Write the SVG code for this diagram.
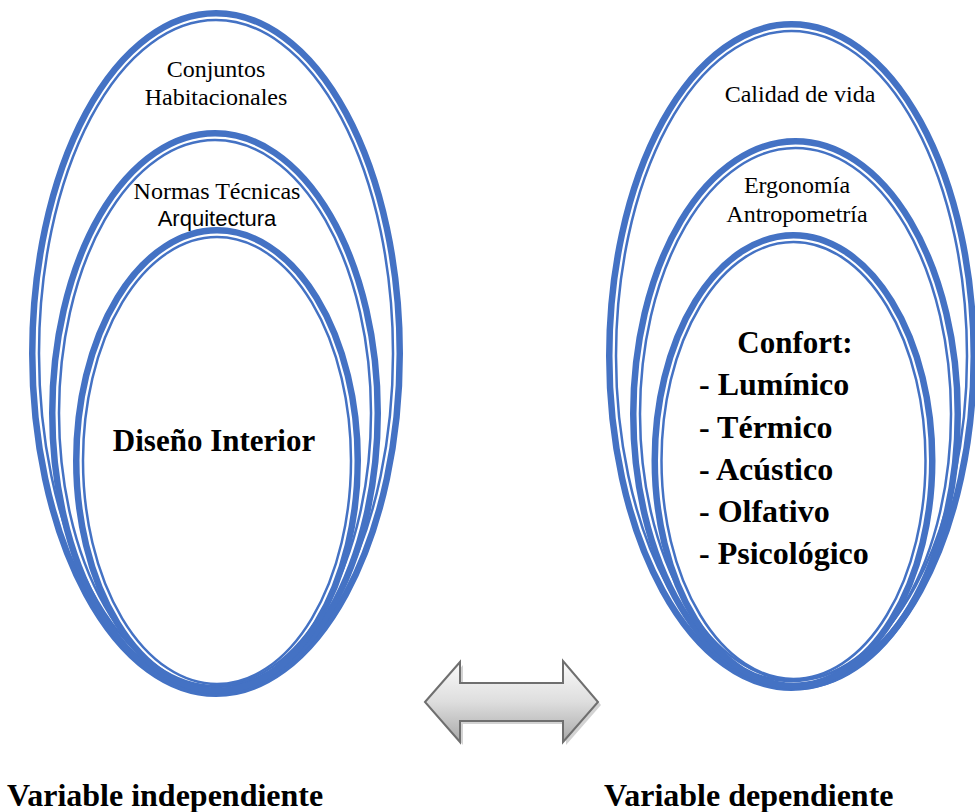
<svg xmlns="http://www.w3.org/2000/svg" width="975" height="812" viewBox="0 0 975 812">
<style>
.thick{fill:none;stroke:#4472C4;stroke-width:6.5}
.thin{fill:none;stroke:#4472C4;stroke-width:2.5}
.lbl{font-family:"Liberation Serif","Times New Roman",serif;font-size:24px;fill:#000;text-anchor:middle}
.sans{font-family:"Liberation Sans",Arial,sans-serif;font-size:22px;fill:#000;text-anchor:middle}
.big{font-family:"Liberation Serif","Times New Roman",serif;font-size:31px;font-weight:bold;fill:#000}
.lst{font-family:"Liberation Serif","Times New Roman",serif;font-size:32px;font-weight:bold;fill:#000}
.var{font-family:"Liberation Serif","Times New Roman",serif;font-size:32px;font-weight:bold;fill:#000}
</style>
<defs>
<linearGradient id="ag" x1="0" y1="0" x2="0" y2="1">
<stop offset="0" stop-color="#fbfbfb"/>
<stop offset="0.5" stop-color="#dedede"/>
<stop offset="1" stop-color="#a9a9a9"/>
</linearGradient>
</defs>
<rect width="975" height="812" fill="#fff"/>

<g id="conjuntos">
<ellipse class="thick" cx="216" cy="353.5" rx="183.75" ry="340.25"/>
<ellipse class="thin" cx="216" cy="353.5" rx="177" ry="333.5"/>
<text class="lbl" x="216" y="77">Conjuntos</text>
<text class="lbl" x="216" y="105">Habitacionales</text>
</g>
<g id="normas">
<ellipse class="thick" cx="215" cy="413" rx="162.75" ry="279.75"/>
<ellipse class="thin" cx="215" cy="413" rx="156" ry="273"/>
<text class="lbl" x="217" y="199">Normas Técnicas</text>
<text class="sans" x="217" y="226">Arquitectura</text>
</g>
<g id="diseno">
<ellipse class="thick" cx="217" cy="460.5" rx="140.75" ry="230.25"/>
<ellipse class="thin" cx="217" cy="460.5" rx="134" ry="223.5"/>
<text class="big" x="214" y="451" text-anchor="middle">Diseño Interior</text>
</g>

<g id="calidad">
<ellipse class="thick" cx="791.5" cy="356" rx="182.25" ry="331.75"/>
<ellipse class="thin" cx="791.5" cy="356" rx="175.5" ry="325"/>
<text class="lbl" x="800" y="102">Calidad de vida</text>
</g>
<g id="ergonomia">
<ellipse class="thick" cx="795.5" cy="414" rx="162.25" ry="272.75"/>
<ellipse class="thin" cx="795.5" cy="414" rx="155.5" ry="266"/>
<text class="lbl" x="797" y="193">Ergonomía</text>
<text class="lbl" x="797" y="222">Antropometría</text>
</g>
<g id="confort">
<ellipse class="thick" cx="793.5" cy="460.5" rx="138.75" ry="225.25"/>
<ellipse class="thin" cx="793.5" cy="460.5" rx="132" ry="218.5"/>
<text class="big" x="795" y="353" text-anchor="middle">Confort:</text>
<text class="lst" x="699" y="395">- Lumínico</text>
<text class="lst" x="699" y="438">- Térmico</text>
<text class="lst" x="699" y="480">- Acústico</text>
<text class="lst" x="699" y="522">- Olfativo</text>
<text class="lst" x="699" y="564">- Psicológico</text>
</g>

<g id="connectors">
<polygon points="428,705 463,665 463,686 566,686 566,664 601,705 566,745 566,724 463,724 463,745" fill="#c8c8c8" opacity="0.8"/>
<polygon points="425,702 460,662 460,683 563,683 563,661 598,702 563,742 563,721 460,721 460,742" fill="url(#ag)" stroke="#6f6f6f" stroke-width="2" stroke-linejoin="miter"/>
</g>

<g id="labels">
<text class="var" x="7" y="806">Variable independiente</text>
<text class="var" x="604" y="806">Variable dependiente</text>
</g>
</svg>
